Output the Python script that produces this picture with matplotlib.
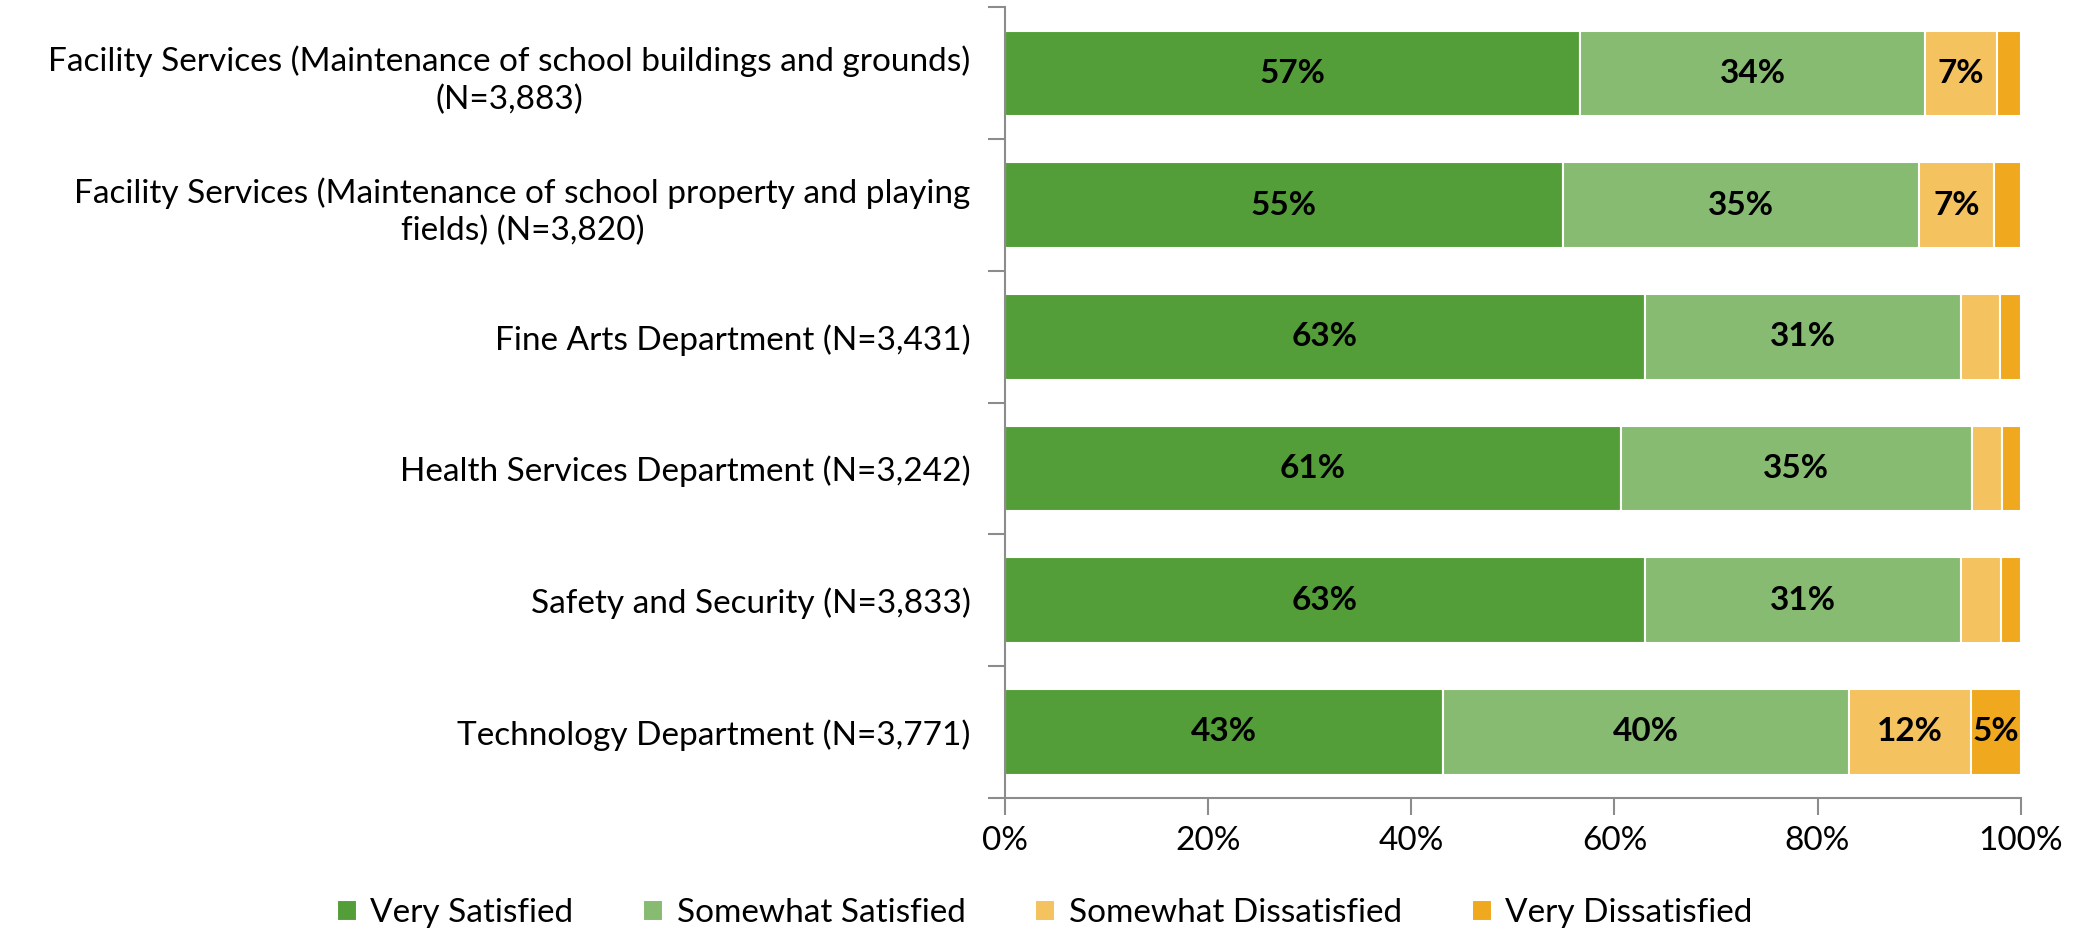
import matplotlib
matplotlib.use("Agg")
import matplotlib.pyplot as plt
from matplotlib.ticker import PercentFormatter

# categories, top to bottom as in the survey chart
categories = [
    "Facility Services (Maintenance of school buildings and grounds)\n(N=3,883)",
    "Facility Services (Maintenance of school property and playing\nfields) (N=3,820)",
    "Fine Arts Department (N=3,431)",
    "Health Services Department (N=3,242)",
    "Safety and Security (N=3,833)",
    "Technology Department (N=3,771)",
]
series_names = ["Very Satisfied", "Somewhat Satisfied", "Somewhat Dissatisfied", "Very Dissatisfied"]
very_sat = [56.6, 54.9, 63.0, 60.6, 63.0, 43.1]
somewhat_sat = [34.0, 35.1, 31.1, 34.6, 31.1, 40.0]
somewhat_dis = [7.1, 7.4, 3.9, 3.0, 4.0, 12.0]
very_dis = [2.3, 2.6, 2.0, 1.8, 1.9, 4.9]
colors = ["#549e39", "#87bb71", "#f4c25e", "#f0a81e"]

plt.rcParams["font.family"] = ["Lato", "DejaVu Sans"]

fig = plt.figure(figsize=(20.81, 9.32), dpi=100)
ax = fig.add_axes([0.483, 0.144, 0.488, 0.848])

ypos = list(range(len(categories)))[::-1]
left = [0.0] * len(categories)
for name, vals, c in zip(series_names, [very_sat, somewhat_sat, somewhat_dis, very_dis], colors):
    bars = ax.barh(ypos, vals, left=left, height=0.65, color=c, edgecolor="white", linewidth=1.5, label=name)
    # small segments (<5%) carry no label in the original
    for b, v, l in zip(bars, vals, left):
        if v >= 4.5:
            ax.text(l + v / 2, b.get_y() + b.get_height() / 2, f"{round(v):.0f}%",
                    ha="center", va="center", fontsize=24, fontweight="bold", color="black")
    left = [l + v for l, v in zip(left, vals)]

ax.set_xlim(0, 100)
ax.set_ylim(-0.5, len(categories) - 0.5)
ax.xaxis.set_major_formatter(PercentFormatter(decimals=0))
ax.set_xticks([0, 20, 40, 60, 80, 100])
ax.set_yticks(ypos)
ax.set_yticklabels(categories, fontsize=24, multialignment="center", linespacing=1.3)
ax.set_yticks([y + 0.5 for y in range(len(categories))] + [-0.5], minor=True)
ax.tick_params(axis="y", which="major", length=0, pad=25)
ax.tick_params(axis="y", which="minor", length=12, color="#8c8c8c", width=1.5)
ax.tick_params(axis="x", length=12, color="#8c8c8c", width=1.5, labelsize=24, pad=8)
for s in ["top", "right"]:
    ax.spines[s].set_visible(False)
for s in ["left", "bottom"]:
    ax.spines[s].set_color("#8c8c8c")
    ax.spines[s].set_linewidth(1.5)

fig.legend(loc="center", bbox_to_anchor=(0.502, 0.02), ncol=4, frameon=False, fontsize=24,
           handlelength=0.6, handleheight=0.6, handletextpad=0.4, columnspacing=2.1)

fig.savefig("out.png", dpi=100)
